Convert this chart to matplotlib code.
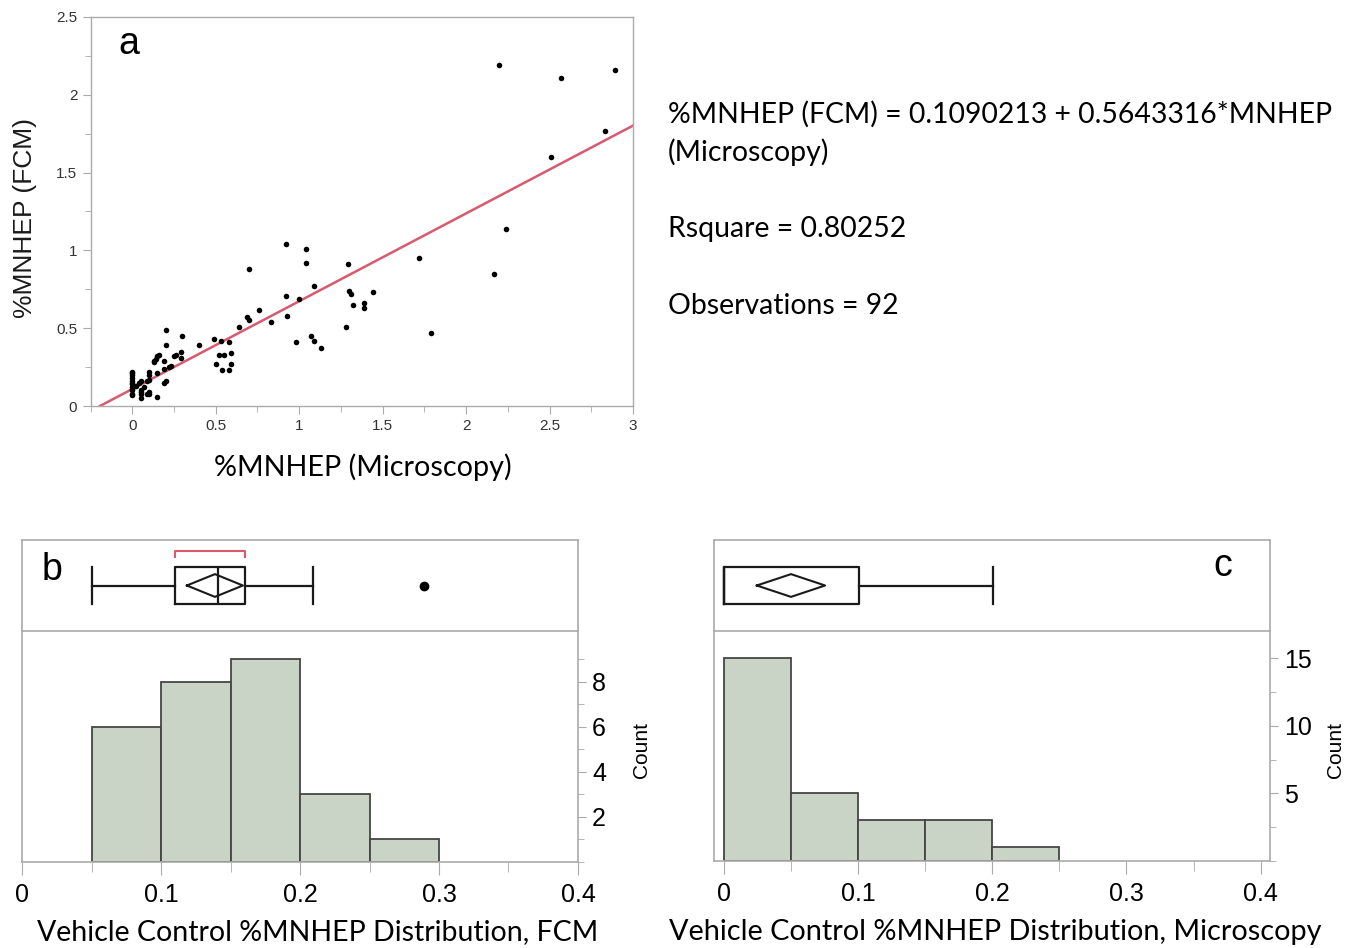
import matplotlib
matplotlib.use('Agg')
import matplotlib.pyplot as plt
from matplotlib.ticker import MultipleLocator, FixedLocator

# ---------------- data ----------------
micro_x = [2.20, 2.57, 2.89, 2.83, 2.51, 2.24, 1.72, 2.17, 1.79,
           0.92, 1.04, 1.04, 1.29, 0.70, 1.09, 0.92, 1.00, 1.30, 1.31, 1.44, 1.32, 1.39, 1.39,
           0.76, 0.93, 0.83, 1.28, 0.98, 1.07, 1.09, 1.13, 0.69, 0.70, 0.64,
           0.40, 0.49, 0.53, 0.58, 0.52, 0.55, 0.59, 0.50, 0.59, 0.54, 0.58,
           0.20, 0.30, 0.20, 0.15, 0.16, 0.13, 0.14, 0.19, 0.25, 0.26, 0.29, 0.29, 0.19, 0.15,
           0.10, 0.20, 0.19, 0.10, 0.09, 0.23, 0.13, 0.22, 0.10,
           0.00, 0.00, 0.00, 0.00, 0.00, 0.00, 0.00, 0.00, 0.05, 0.04, 0.05, 0.05, 0.05, 0.10,
           0.09, 0.15, 0.00, 0.02, 0.00, 0.00, 0.00, 0.05, 0.10, 0.07]
fcm_y = [2.19, 2.11, 2.16, 1.77, 1.60, 1.14, 0.95, 0.85, 0.47,
         1.04, 1.01, 0.92, 0.91, 0.88, 0.77, 0.71, 0.69, 0.74, 0.72, 0.73, 0.65, 0.66, 0.63,
         0.62, 0.58, 0.54, 0.51, 0.41, 0.45, 0.42, 0.37, 0.57, 0.55, 0.51,
         0.39, 0.43, 0.42, 0.41, 0.33, 0.33, 0.34, 0.27, 0.27, 0.23, 0.23,
         0.49, 0.45, 0.39, 0.32, 0.33, 0.29, 0.30, 0.29, 0.32, 0.33, 0.35, 0.31, 0.24, 0.21,
         0.22, 0.16, 0.15, 0.17, 0.16, 0.26, 0.28, 0.25, 0.20,
         0.22, 0.20, 0.18, 0.16, 0.14, 0.10, 0.08, 0.12, 0.16, 0.15, 0.10, 0.08, 0.05, 0.09,
         0.08, 0.06, 0.07, 0.13, 0.11, 0.15, 0.21, 0.09, 0.08, 0.12]

intercept = 0.1090213
slope = 0.5643316
rsquare = 0.80252
n_obs = 92

fcm_bin_edges = [0.05, 0.10, 0.15, 0.20, 0.25, 0.30]
fcm_counts = [6, 8, 9, 3, 1]
mic_bin_edges = [0.00, 0.05, 0.10, 0.15, 0.20, 0.25]
mic_counts = [15, 5, 3, 3, 1]

# box-plot summaries (outlier box plot + mean diamond)
fcm_box = dict(whislo=0.0504, q1=0.1098, med=0.1407, q3=0.1606, whishi=0.2097, fliers=[0.2893])
fcm_mean, fcm_ci = 0.1388, (0.1186, 0.1589)
fcm_shortest_half = (0.1098, 0.1606)
mic_box = dict(whislo=0.0, q1=0.0, med=0.0, q3=0.1005, whishi=0.2003, fliers=[])
mic_mean, mic_ci = 0.05, (0.0245, 0.0754)

# ---------------- styling ----------------
W, H = 1358, 948
fig = plt.figure(figsize=(W / 100, H / 100), dpi=100)
BODY = ['Lato', 'DejaVu Sans']
SANS = ['Liberation Sans', 'DejaVu Sans']
LINE_RED = '#d75a6e'
HIST_FILL = '#c9d3c6'
HIST_EDGE = '#454545'
SPINE = '#aaaaaa'
INK = '#1a1a1a'


def ax_px(l, t, r, b):
    return fig.add_axes([l / W, 1 - b / H, (r - l) / W, (b - t) / H])


def fit_text(x, y, s, target_w, family, ha='left', va='center', **kw):
    t = fig.text(x / W, 1 - y / H, s, family=family, fontsize=20, ha=ha, va=va, **kw)
    r = fig.canvas.get_renderer()
    w = t.get_window_extent(r).width
    t.set_fontsize(20 * target_w / w)
    return t


# ---------------- panel a: scatter ----------------
ax = ax_px(90.5, 17, 633, 406)
ax.scatter(micro_x, fcm_y, s=16, color='black', zorder=3, linewidths=0)
x0 = -intercept / slope
ax.plot([x0, 3.0], [intercept + slope * x0, intercept + slope * 3.0], color=LINE_RED, lw=1.8, zorder=2)
ax.set_xlim(-0.25, 3.0)
ax.set_ylim(0, 2.5)
ax.xaxis.set_major_locator(MultipleLocator(0.5))
ax.xaxis.set_minor_locator(MultipleLocator(0.25))
ax.yaxis.set_major_locator(MultipleLocator(0.5))
ax.yaxis.set_minor_locator(MultipleLocator(0.25))
ax.xaxis.set_major_formatter(plt.FuncFormatter(lambda v, p: f'{v:g}'))
ax.yaxis.set_major_formatter(plt.FuncFormatter(lambda v, p: f'{v:g}'))
for s in ax.spines.values():
    s.set_color(SPINE)
    s.set_linewidth(1.0)
ax.tick_params(which='both', color=SPINE, labelcolor='#333333', labelsize=11)
ax.tick_params(which='major', length=6)
ax.tick_params(which='minor', length=4)
for lab in ax.get_xticklabels() + ax.get_yticklabels():
    lab.set_family(SANS)
ax.text(0.07, 0.93, 'a', transform=ax.transAxes, fontsize=27, family=SANS, ha='center', va='center')

fit_text(363, 467, '%MNHEP (Microscopy)', 297, BODY, ha='center')
fig.text(25 / W, 1 - 218 / H, '%MNHEP (FCM)', family=SANS, fontsize=19, rotation=90,
         ha='center', va='center', color=INK)

eq = fit_text(668, 114, f'%MNHEP (FCM) = {intercept:.7f} + {slope:.7f}*MNHEP', 662, BODY)
tsz = eq.get_fontsize()
fig.text(668 / W, 1 - 152 / H, '(Microscopy)', family=BODY, fontsize=tsz, ha='left', va='center')
fig.text(668 / W, 1 - 229 / H, f'Rsquare = {rsquare:.5f}', family=BODY, fontsize=tsz, ha='left', va='center')
fig.text(668 / W, 1 - 306 / H, f'Observations = {n_obs}', family=BODY, fontsize=tsz, ha='left', va='center')


# ---------------- box + histogram panels ----------------
def box_panel(l, r, xlim, stats, mean, ci, label, label_xy, shortest=None):
    bx = ax_px(l, 540, r, 631)
    st = dict(stats)
    st['fliers'] = list(stats['fliers'])
    lp = dict(color=INK, lw=1.6)
    bx.bxp([st], positions=[0.5], widths=0.4, orientation='horizontal', showfliers=True,
           capwidths=[0.4], boxprops=lp, whiskerprops=lp, capprops=lp, medianprops=lp,
           flierprops=dict(marker='o', markerfacecolor='black', markeredgecolor='black', markersize=6))
    lo, hi = ci
    bx.plot([lo, mean, hi, mean, lo], [0.5, 0.625, 0.5, 0.375, 0.5], color=INK, lw=1.5)
    if shortest is not None:
        a, b = shortest
        bx.plot([a, a, b, b], [0.81, 0.88, 0.88, 0.81], color=LINE_RED, lw=1.5)
    bx.set_xlim(*xlim)
    bx.set_ylim(0, 1)
    bx.set_xticks([])
    bx.set_yticks([])
    for s in bx.spines.values():
        s.set_color(SPINE)
        s.set_linewidth(1.2)
    bx.set_zorder(3)
    bx.patch.set_alpha(0)
    fig.text(label_xy[0] / W, 1 - label_xy[1] / H, label, family=SANS, fontsize=27, ha='center', va='center')
    return bx


def hist_panel(l, r, bottom, xlim, ylim, edges, counts, ymajor, yminor, xlabel, xlabel_w, xlabel_x, count_x):
    hx = ax_px(l, 631, r, bottom)
    hx.patch.set_alpha(0)
    hx.bar(edges[:-1], counts, width=[edges[i + 1] - edges[i] for i in range(len(counts))], align='edge',
           color=HIST_FILL, edgecolor=HIST_EDGE, linewidth=1.3, zorder=2)
    hx.set_xlim(*xlim)
    hx.set_ylim(*ylim)
    hx.xaxis.set_major_locator(FixedLocator([0, 0.1, 0.2, 0.3, 0.4]))
    hx.xaxis.set_minor_locator(FixedLocator([0.05, 0.15, 0.25, 0.35]))
    hx.xaxis.set_major_formatter(plt.FuncFormatter(lambda v, p: f'{v:g}'))
    hx.yaxis.tick_right()
    hx.yaxis.set_major_locator(FixedLocator(ymajor))
    hx.yaxis.set_minor_locator(FixedLocator(yminor))
    hx.spines['top'].set_visible(False)
    for s in ('bottom', 'right', 'left'):
        hx.spines[s].set_color(SPINE)
        hx.spines[s].set_linewidth(1.2)
    hx.tick_params(which='both', color=SPINE, labelsize=18, labelcolor='black')
    hx.tick_params(axis='x', which='major', length=9, pad=6)
    hx.tick_params(axis='x', which='minor', length=7)
    hx.tick_params(axis='y', which='major', length=6, pad=4)
    hx.tick_params(axis='y', which='minor', length=4)
    for lab in hx.get_xticklabels() + hx.get_yticklabels():
        lab.set_family(SANS)
    fit_text(xlabel_x, 932, xlabel, xlabel_w, BODY, ha='center')
    fig.text(count_x / W, 1 - 750 / H, 'Count', family=SANS, fontsize=15, rotation=90, ha='center', va='center')
    return hx


box_panel(22, 578, (0, 0.4), fcm_box, fcm_mean, fcm_ci, 'b', (52, 570), shortest=fcm_shortest_half)
hist_panel(22, 578, 862, (0, 0.4), (0, 10.25), fcm_bin_edges, fcm_counts, [2, 4, 6, 8], [0, 1, 3, 5, 7, 9],
           'Vehicle Control %MNHEP Distribution, FCM', 561, 317.5, 641)

box_panel(714, 1270, (-0.0074, 0.407), mic_box, mic_mean, mic_ci, 'c', (1223, 566))
hist_panel(714, 1270, 861, (-0.0074, 0.407), (0, 17), mic_bin_edges, mic_counts, [5, 10, 15],
           [0, 2.5, 7.5, 12.5], 'Vehicle Control %MNHEP Distribution, Microscopy', 654, 995, 1336)

fig.savefig('out.png', dpi=100)
